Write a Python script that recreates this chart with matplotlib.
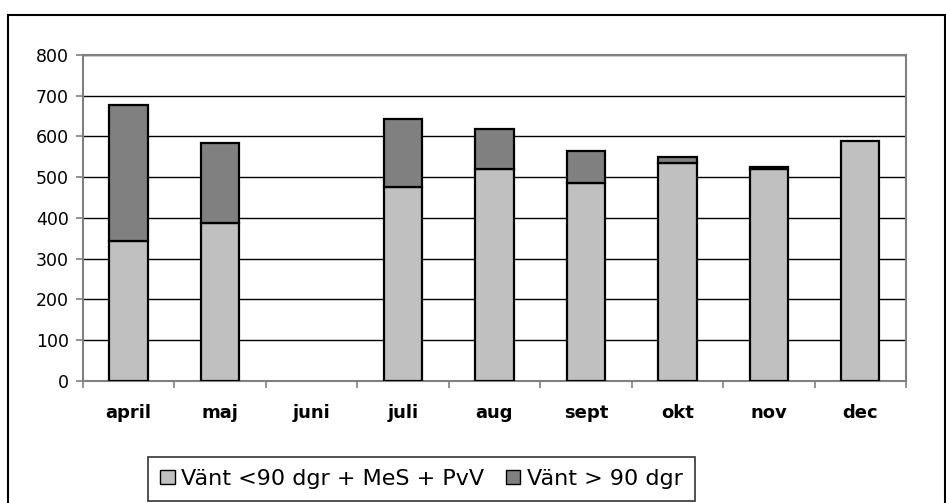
import numpy as np
import matplotlib.pyplot as plt
from matplotlib.patches import Rectangle

plt.rcParams['font.family'] = ['DejaVu Sans']

months = ['april', 'maj', 'juni', 'juli', 'aug', 'sept', 'okt', 'nov', 'dec']
vant_under90 = [343, 388, 0, 475, 519, 485, 534, 519, 588]   # Vänt <90 dgr + MeS + PvV
vant_over90 = [334, 195, 0, 167, 99, 79, 16, 5, 0]            # Vänt > 90 dgr

fig = plt.figure(figsize=(9.46, 5.03), dpi=100)
ax = fig.add_axes([0.0877, 0.2431, 0.8700, 0.6476])

x = np.arange(len(months))
w = 0.42
# no outline on empty segments
lw1 = [1.6 if v else 0 for v in vant_under90]
lw2 = [1.6 if v else 0 for v in vant_over90]
ax.bar(x, vant_under90, w, color='#c0c0c0', edgecolor='black', linewidth=lw1,
       label='Vänt <90 dgr + MeS + PvV', zorder=3)
ax.bar(x, vant_over90, w, bottom=vant_under90, color='#808080', edgecolor='black',
       linewidth=lw2, label='Vänt > 90 dgr', zorder=3)

ax.set_xlim(-0.5, len(months) - 0.5)
ax.set_ylim(0, 800)
ax.set_yticks(np.arange(0, 801, 100))
ax.yaxis.grid(True, color='black', linewidth=1, zorder=0)
ax.set_axisbelow(True)

# category ticks sit between the bars
ax.set_xticks(np.arange(len(months) + 1) - 0.5)
ax.set_xticklabels([])
ax.set_xticks(x, minor=True)
ax.set_xticklabels(months, minor=True, fontsize=13, fontweight='bold')
ax.tick_params(axis='x', which='minor', length=0, pad=17)
ax.tick_params(axis='x', which='major', length=5, color='#808080', width=1.2)
ax.tick_params(axis='y', length=5, color='#808080', width=1.2, labelsize=12.5, pad=5)
for s in ax.spines.values():
    s.set_color('#808080')
    s.set_linewidth(1.5)

leg = fig.legend(loc='lower left', bbox_to_anchor=(148 / 946, 2 / 503, 547 / 946, 46 / 503),
                 mode='expand', ncol=2, frameon=True, fancybox=False, fontsize=16,
                 handlelength=0.65, handleheight=0.65, handletextpad=0.3,
                 columnspacing=0.4, borderpad=0.55, borderaxespad=0)
leg.get_frame().set_edgecolor('black')
leg.get_frame().set_linewidth(1.2)
for h in leg.legend_handles:
    h.set_linewidth(1)

# outer chart border
fig.patches.append(Rectangle((8 / 946, -0.05), 937 / 946, 1.05 - 15 / 503,
                             transform=fig.transFigure, fill=False,
                             edgecolor='black', linewidth=1.5))

fig.savefig('out.png', dpi=100)
